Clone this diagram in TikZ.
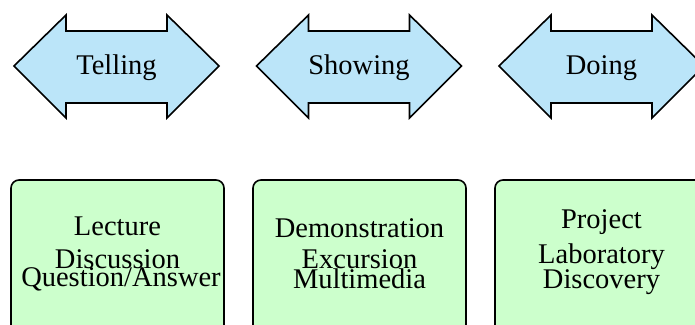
\documentclass[tikz,border=0pt]{standalone}
\usepackage{fontspec}
\setmainfont{Liberation Serif}
\definecolor{arrowblue}{RGB}{187,229,249}
\definecolor{boxgreen}{RGB}{204,255,204}
\begin{document}
\begin{tikzpicture}[x=1pt,y=-1pt,
  dblarrow/.style={draw=black,fill=arrowblue,line width=1.6pt,line join=miter},
  stagebox/.style={draw=black,fill=boxgreen,line width=1.6pt,rounded corners=8pt},
  lbl/.style={font=\fontsize{28.5}{30}\selectfont,inner sep=0pt,anchor=base}]
\useasboundingbox (0,0) rectangle (695,324);
\clip (0,0) rectangle (695,324);
% arrows
\foreach \cx/\nm in {116.5/a1,359/a2,601.5/a3}{
  \draw[dblarrow] (\cx-102.5,66) -- (\cx-50.5,15) -- (\cx-50.5,31) -- (\cx+50.5,31)
    -- (\cx+50.5,15) -- (\cx+102.5,66) -- (\cx+50.5,118) -- (\cx+50.5,103)
    -- (\cx-50.5,103) -- (\cx-50.5,118) -- cycle;
}
\node[lbl] (telling) at (116.5,74) {Telling};
\node[lbl] (showing) at (359,74) {Showing};
\node[lbl] (doing) at (601.5,74) {Doing};
% boxes
\draw[stagebox] (11,180) rectangle (224,345);
\draw[stagebox] (253,180) rectangle (466,345);
\draw[stagebox] (495,180) rectangle (708,345);
\node[lbl] (lecture) at (117.5,235) {Lecture};
\node[lbl] (discussion) at (117.5,268) {Discussion};
\node[lbl] (qa) at (121,286) {Question/Answer};
\node[lbl] (demo) at (359.5,237) {Demonstration};
\node[lbl] (excursion) at (359.5,268) {Excursion};
\node[lbl] (multimedia) at (359.5,288) {Multimedia};
\node[lbl] (project) at (601.5,228) {Project};
\node[lbl] (laboratory) at (601.5,263) {Laboratory};
\node[lbl] (discovery) at (601.5,288) {Discovery};
\end{tikzpicture}
\end{document}
